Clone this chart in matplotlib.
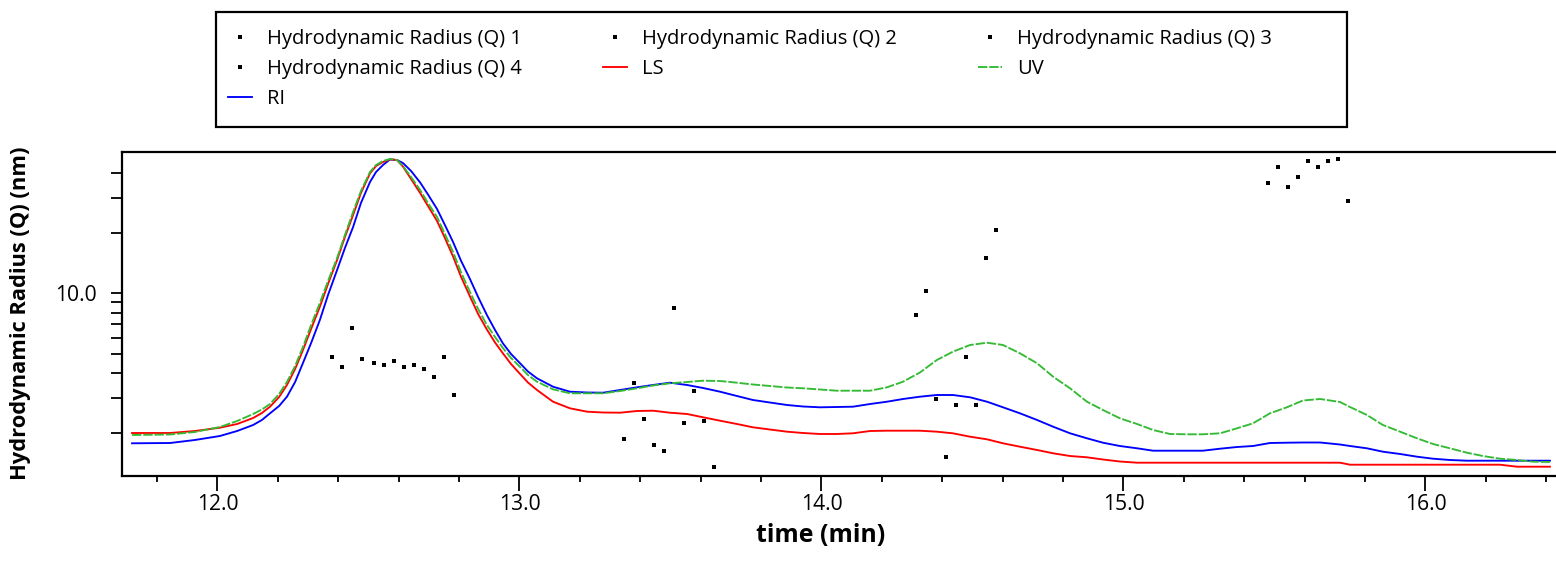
import matplotlib
matplotlib.use("Agg")
import matplotlib.pyplot as plt
from matplotlib.ticker import FixedLocator, MultipleLocator, FormatStrFormatter, NullFormatter
from matplotlib.patches import Rectangle

plt.rcParams['font.family'] = ['Open Sans', 'DejaVu Sans']

# ---------------- data ----------------
time_min = [11.717, 11.843, 11.925, 12.008, 12.065, 12.118, 12.147,
            12.174, 12.204, 12.230, 12.257, 12.283, 12.310, 12.339, 12.366, 12.396, 12.422,
            12.449, 12.475, 12.505, 12.525, 12.548, 12.571, 12.594, 12.614, 12.641, 12.671,
            12.697, 12.727, 12.753, 12.780, 12.806, 12.836, 12.863, 12.892, 12.919, 12.945,
            12.972, 13.002, 13.028, 13.058,
            13.111, 13.167, 13.224, 13.277, 13.333, 13.389, 13.442, 13.498, 13.555, 13.608,
            13.664, 13.720, 13.773, 13.829, 13.886, 13.939, 13.995,
            14.051, 14.104, 14.161, 14.217, 14.270, 14.326, 14.382, 14.435, 14.492, 14.548,
            14.601, 14.657, 14.714, 14.767, 14.823, 14.879, 14.932, 14.988, 15.045, 15.098,
            15.154, 15.210, 15.263, 15.320, 15.376, 15.429, 15.485, 15.541, 15.594, 15.651,
            15.717, 15.750, 15.806, 15.859, 15.916, 15.972, 16.025, 16.081, 16.137, 16.190,
            16.247, 16.303, 16.356, 16.412]

ls_signal = [43, 43, 45, 48.3, 52, 58, 63,
             69.3, 79, 91, 107, 126, 147, 169.3, 192, 216, 239,
             261, 283, 302.7, 310, 314, 316.7, 316, 309.5, 297, 283,
             270, 255, 238, 219.5, 199.5, 179.5, 162, 146.5, 133.5, 122.7,
             112, 102, 93.5, 86,
             74.3, 67.7, 64.3, 63.5, 63.3, 65, 65.3, 63.3, 62, 58.7,
             55.3, 52, 48.7, 46.5, 44.3, 43, 42,
             42, 42.7, 45, 45.3, 45.3, 45.3, 44.3, 42.7, 39.3, 36.7,
             32.7, 29.3, 26, 22.7, 20, 18.7, 16.5, 14.5, 13.3, 13.3,
             13.3, 13.3, 13.3, 13.3, 13.3, 13.3, 13.3, 13.3, 13.3, 13.3,
             13.3, 11.3, 11.3, 11.3, 11.3, 11.3, 11.3, 11.3, 11.3, 11.3,
             11.3, 9.3, 9.3, 9.3]

uv_signal = [41, 41.5, 44, 49, 55, 62, 66.5,
             72, 82, 94, 110, 129, 151, 173, 195, 218, 241,
             264, 285, 304, 311, 315, 317, 316, 310, 299, 286,
             273, 259, 242, 224, 204, 184, 167, 151, 139, 128,
             118, 109, 101, 94.3,
             86.7, 82.7, 82.7, 82.7, 85, 87.7, 90.5, 92.7, 94, 95.3,
             95, 93.3, 91.5, 90, 88.5, 87.7, 86.5,
             85.3, 85.3, 85.3, 88.7, 94.3, 103.5, 116, 124.3, 131, 133.3,
             131, 122.7, 112.7, 99.3, 87.7, 74.3, 66, 57.7, 52, 46,
             42, 41.7, 41.7, 42.7, 47.7, 52.7, 62.7, 68.7, 75.5, 77,
             74, 69, 61, 51, 44.3, 37.7, 32, 27.7, 23.3, 20,
             17.3, 16, 14.3, 14]

ri_signal = [32.7, 33, 36, 40, 45, 51, 56,
             62.7, 70, 79.3, 94, 113, 133, 156, 181, 206, 228,
             249, 273, 294, 304, 311, 316.5, 316, 313, 305, 293.5,
             281.5, 267, 251, 234, 215.5, 197, 179, 161, 146, 132.7,
             122, 112.7, 104.5, 97.7,
             89.3, 84.3, 83.5, 83.3, 86, 88.7, 91, 93.3, 91, 88,
             84.3, 80, 76, 73.5, 71, 69.5, 68.7,
             69, 69.3, 72, 74.3, 77, 79.3, 81, 81, 78.7, 74.3,
             68.7, 62.7, 56, 49.3, 42.7, 37.7, 33.3, 30, 27.7, 25.3,
             25.3, 25.3, 25.3, 27.3, 29, 30, 33, 33.3, 33.5, 33.5,
             31.5, 30, 27.7, 24.3, 22, 19.3, 17.3, 16, 15.3, 15.3,
             15.3, 15.3, 15.3, 15.3]

hr1_time = [12.380, 12.413, 12.446, 12.479, 12.519, 12.552, 12.585, 12.619, 12.652, 12.685,
            12.718, 12.751, 12.784]
hr1_radius = [4.79, 4.27, 6.73, 4.68, 4.47, 4.37, 4.57, 4.27, 4.37, 4.17, 3.80, 4.79, 3.10]

hr2_time = [13.346, 13.379, 13.412, 13.445, 13.478, 13.511, 13.544, 13.578, 13.611, 13.644]
hr2_radius = [1.87, 3.55, 2.35, 1.75, 1.63, 8.47, 2.25, 3.24, 2.30, 1.36]

hr3_time = [14.313, 14.346, 14.379, 14.412, 14.445, 14.478, 14.512, 14.545, 14.578]
hr3_radius = [7.76, 10.23, 2.96, 1.52, 2.76, 4.80, 2.76, 15.1, 20.8]

hr4_time = [15.480, 15.513, 15.546, 15.579, 15.612, 15.645, 15.678, 15.711, 15.745]
hr4_radius = [35.5, 42.7, 34.0, 38.0, 45.7, 42.7, 45.7, 46.8, 28.9]

x_major_ticks = [12.0, 13.0, 14.0, 15.0, 16.0]
y_major_ticks = [10.0]
y_minor_ticks = [2, 3, 4, 5, 6, 7, 8, 9, 20, 30, 40]

assert len(time_min) == len(ls_signal) == len(uv_signal) == len(ri_signal)

# ---------------- figure ----------------
W, H = 1556, 577
fig = plt.figure(figsize=(W / 100, H / 100), dpi=100)
ax_left, ax_right, ax_bottom, ax_top = 122, 1560, 476, 152
ax = fig.add_axes([ax_left / W, 1 - ax_bottom / H, (ax_right - ax_left) / W, (ax_bottom - ax_top) / H])

fig.canvas.draw()
rend = fig.canvas.get_renderer()


def fit_size(s, target_px, weight='normal'):
    t = fig.text(0, 0, s, fontsize=10, fontweight=weight)
    w = t.get_window_extent(renderer=rend).width
    t.remove()
    return 10 * target_px / w


def text_h(s, size, weight='normal'):
    t = fig.text(0, 0, s, fontsize=size, fontweight=weight)
    h = t.get_window_extent(renderer=rend).height
    t.remove()
    return h


tick_fs = fit_size("10.0", 42)
leg_fs = fit_size("Hydrodynamic Radius (Q) 1", 255)
xlab_fs = fit_size("time (min)", 129, 'bold')
ylab_fs = fit_size("Hydrodynamic Radius (Q) (nm)", 332, 'bold')

mk = dict(marker='s', linestyle='none', color='black', markersize=3.2, markeredgewidth=0)
h1, = ax.plot(hr1_time, hr1_radius, **mk)
h2, = ax.plot(hr2_time, hr2_radius, **mk)
h3, = ax.plot(hr3_time, hr3_radius, **mk)
h4, = ax.plot(hr4_time, hr4_radius, **mk)

ax.set_yscale('log')
ax.set_ylim(1.2206, 50.87)
ax.set_xlim(11.6838, 16.4454)

ax2 = ax.twinx()
ax2.set_ylim(0, 324)
ax2.axis('off')
lw = 1.35
hls, = ax2.plot(time_min, ls_signal, color='#ff0000', lw=lw, zorder=3)
hri, = ax2.plot(time_min, ri_signal, color='#0000ff', lw=lw, zorder=2)
huv, = ax2.plot(time_min, uv_signal, color='#33bb33', lw=lw, dashes=(5, 1.0), zorder=4)

ax.yaxis.set_major_locator(FixedLocator(y_major_ticks))
ax.yaxis.set_major_formatter(FormatStrFormatter('%.1f'))
ax.yaxis.set_minor_locator(FixedLocator(y_minor_ticks))
ax.yaxis.set_minor_formatter(NullFormatter())
ax.xaxis.set_major_locator(FixedLocator(x_major_ticks))
ax.xaxis.set_major_formatter(FormatStrFormatter('%.1f'))
ax.xaxis.set_minor_locator(MultipleLocator(0.2))

for s in ['left', 'bottom', 'top']:
    ax.spines[s].set_linewidth(1.6)
ax.spines['right'].set_visible(False)
ax.tick_params(axis='y', which='both', length=8, width=1.3, labelsize=tick_fs, pad=10)
ax.tick_params(axis='x', which='major', length=11, width=1.3, labelsize=tick_fs, pad=2)
ax.tick_params(axis='x', which='minor', length=4, width=1.3)

ax.set_xlabel("time (min)", fontsize=xlab_fs, fontweight='bold', va='center')
ax.xaxis.set_label_coords((821 - ax_left) / (ax_right - ax_left), (ax_bottom - 535) / (ax_bottom - ax_top))
ax.set_ylabel("Hydrodynamic Radius (Q) (nm)", fontsize=ylab_fs, fontweight='bold', va='center')
ax.yaxis.set_label_coords((20 - ax_left) / (ax_right - ax_left), (ax_bottom - 313) / (ax_bottom - ax_top))

# ---------------- legend ----------------
fs_px = leg_fs * 100 / 72
lab_w = 255
th = text_h("Hydrodynamic Radius (Q) 1", leg_fs)
handles = [h1, h4, hri, h2, hls, h3, huv]
labels = ["Hydrodynamic Radius (Q) 1", "Hydrodynamic Radius (Q) 4", "RI",
          "Hydrodynamic Radius (Q) 2", "LS",
          "Hydrodynamic Radius (Q) 3", "UV"]
leg = fig.legend(handles, labels, loc='upper left',
                 bbox_to_anchor=(228 / W, 1 - (39 - th / 2) / H),
                 ncol=3, frameon=False, fontsize=leg_fs, borderpad=0, borderaxespad=0,
                 handlelength=24 / fs_px, handletextpad=15 / fs_px,
                 columnspacing=(375 - 24 - 15 - lab_w) / fs_px,
                 labelspacing=(30 - th) / fs_px, numpoints=1, markerscale=1.0)
fig.patches.append(Rectangle((216 / W, 1 - 127 / H), 1131 / W, 115 / H, transform=fig.transFigure,
                             fill=False, edgecolor='black', linewidth=1.6))

fig.savefig("out.png", dpi=100)
